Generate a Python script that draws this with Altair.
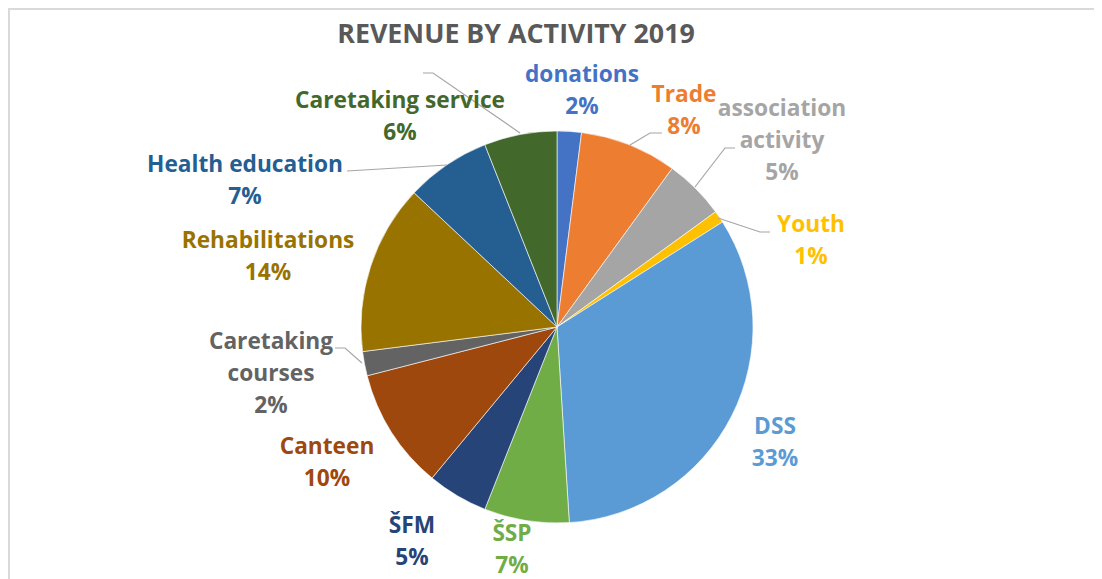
import altair as alt
import pandas as pd

# ---- data ----
categories = ["donations", "Trade", "association activity", "Youth", "DSS", "ŠSP",
              "ŠFM", "Canteen", "Caretaking courses", "Rehabilitations",
              "Health education", "Caretaking service"]
shares = [2, 8, 5, 1, 33, 7, 5, 10, 2, 14, 7, 6]
colors = ["#4472C4", "#ED7D31", "#A5A5A5", "#FFC000", "#5B9BD5", "#70AD47",
          "#264478", "#9E480E", "#636363", "#997300", "#255E91", "#43682B"]
label_lines = [["donations"], ["Trade"], ["association", "activity"], ["Youth"],
               ["DSS"], ["ŠSP"], ["ŠFM"], ["Canteen"], ["Caretaking", "courses"],
               ["Rehabilitations"], ["Health education"], ["Caretaking service"]]
title_text = "REVENUE BY ACTIVITY 2019"

# ---- layout (chart pixel space) ----
W, H = 1086, 571
CX, CY, R = 549, 319, 196
label_x = [574, 676, 774, 803, 767, 504, 404, 319, 263, 260, 237, 392]
label_y0 = [67, 87, 101, 217, 419, 526, 518, 439, 334, 233, 157, 93]
line_step = 32
leaders = [  # (category, list of points)
    ("Caretaking service", [(415, 65), (425, 65), (512, 125)]),
    ("Health education", [(339, 163), (439, 157)]),
    ("Trade", [(622, 137), (642, 125), (654, 125)]),
    ("association activity", [(687, 179), (717, 140), (727, 140)]),
    ("Youth", [(710, 210), (752, 224), (762, 224)]),
    ("Caretaking courses", [(327, 340), (337, 340), (354, 355)]),
]

df = pd.DataFrame({"cat": categories, "value": shares, "idx": list(range(len(categories)))})

lab_rows = []
for i, c in enumerate(categories):
    lines = label_lines[i] + [f"{shares[i]}%"]
    for k, t in enumerate(lines):
        lab_rows.append({"cat": c, "text": t, "x": label_x[i], "y": label_y0[i] + k * line_step})
lab_df = pd.DataFrame(lab_rows)

lead_rows = []
for c, pts in leaders:
    for j, (px, py) in enumerate(pts):
        lead_rows.append({"cat": c, "x": px, "y": py, "o": j})
lead_df = pd.DataFrame(lead_rows)

color_scale = alt.Scale(domain=categories, range=colors)

pie = alt.Chart(df).mark_arc(radius=R, stroke="white", strokeWidth=0.6).encode(
    theta=alt.Theta("value:Q", stack=True),
    order=alt.Order("idx:Q"),
    color=alt.Color("cat:N", scale=color_scale, legend=None),
    x=alt.value(CX), y=alt.value(CY),
)

shadow = alt.Chart(pd.DataFrame({"v": [1]})).mark_arc(
    radius=R + 3, color="#000000", opacity=0.07
).encode(theta=alt.Theta("v:Q"), x=alt.value(CX + 2), y=alt.value(CY + 2))

labels = alt.Chart(lab_df).mark_text(
    font="Open Sans", fontWeight="bold", fontSize=22.7, align="center", baseline="middle"
).encode(
    x=alt.X("x:Q", scale=None), y=alt.Y("y:Q", scale=None),
    text="text:N",
    color=alt.Color("cat:N", scale=color_scale, legend=None),
)

lead = alt.Chart(lead_df).mark_line(color="#A6A6A6", strokeWidth=1.2).encode(
    x=alt.X("x:Q", scale=None), y=alt.Y("y:Q", scale=None),
    order="o:Q", detail="cat:N",
)

title = alt.Chart(pd.DataFrame({"t": [title_text]})).mark_text(
    font="Open Sans", fontWeight="bold", fontSize=26.8, color="#595959",
    align="center", baseline="middle"
).encode(text="t:N", x=alt.value(508), y=alt.value(27))

border_top = alt.Chart(pd.DataFrame({"v": [1]})).mark_rule(color="#D9D9D9", strokeWidth=2).encode(
    x=alt.value(0), x2=alt.value(W), y=alt.value(1))
border_left = alt.Chart(pd.DataFrame({"v": [1]})).mark_rule(color="#D9D9D9", strokeWidth=2).encode(
    x=alt.value(1), y=alt.value(0), y2=alt.value(H))

chart = alt.layer(shadow, pie, lead, labels, title, border_top, border_left).properties(
    width=W, height=H, autosize=alt.AutoSizeParams(type="none"), padding=0,
    background="white"
).configure_view(stroke=None)

chart.save("out.html", embed_options={"renderer": "svg", "actions": False})
